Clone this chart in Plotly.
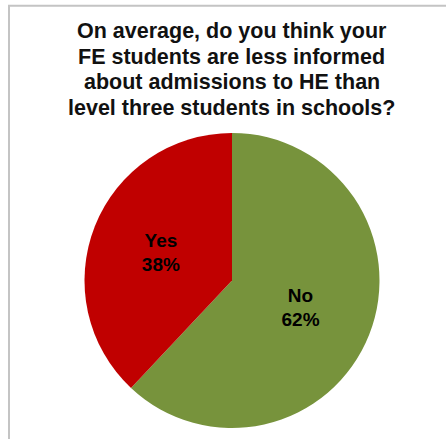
import plotly.graph_objects as go

# Survey responses (clockwise from 12 o'clock)
answers = ["No", "Yes"]
shares = [62, 38]
slice_colors = ["#77933C", "#C00000"]
title_lines = [
    "On average, do you think your",
    "FE students are less informed",
    "about admissions to HE than",
    "level three students in schools?",
]

W, H = 446, 439
cx, cy, r = 232, 280.5, 147.5

fig = go.Figure(
    go.Pie(
        labels=answers,
        values=shares,
        sort=False,
        direction="clockwise",
        rotation=0,
        marker=dict(colors=slice_colors, line=dict(width=0)),
        texttemplate="%{label}<br>%{percent:.0%}",
        textposition="inside",
        insidetextorientation="horizontal",
        textfont=dict(family="Liberation Sans", size=19, color="#000000", weight="bold"),
        hoverinfo="label+percent",
        showlegend=False,
        domain=dict(
            x=[(cx - r) / W, (cx + r) / W],
            y=[1 - (cy + r) / H, 1 - (cy - r) / H],
        ),
    )
)

# Four-line heading, one annotation per line for tight leading
line_mid_px = [31, 56.5, 82.5, 107.5]
for txt, ypx in zip(title_lines, line_mid_px):
    fig.add_annotation(
        text=txt,
        x=cx / W, y=1 - ypx / H,
        xref="paper", yref="paper",
        xanchor="center", yanchor="middle",
        showarrow=False,
        font=dict(family="Liberation Sans", size=21.5, color="#111111", weight="bold"),
    )

# Light grey frame along the top and left
fig.add_shape(
    type="rect", xref="paper", yref="paper",
    x0=9 / W, x1=1.05, y0=-0.05, y1=1 - 5.7 / H,
    line=dict(color="#c4c4c4", width=2),
    fillcolor="rgba(0,0,0,0)",
    layer="below",
)

fig.update_layout(
    width=W, height=H,
    margin=dict(l=0, r=0, t=0, b=0),
    paper_bgcolor="#ffffff",
    plot_bgcolor="#ffffff",
)

fig.write_html("out.html", config={"displayModeBar": False})
